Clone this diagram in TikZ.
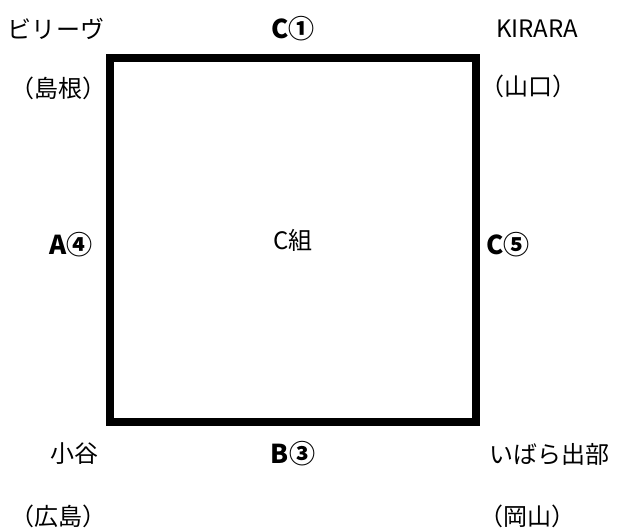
\documentclass[tikz,border=0pt]{standalone}
\usepackage{fontspec}
\setmainfont{Noto Sans CJK JP}
\usetikzlibrary{positioning}

\begin{document}
\begin{tikzpicture}[
  x=1pt, y=-1pt,
  every node/.style={font=\fontsize{24}{28}\selectfont, inner sep=0pt},
  team/.style={font=\fontsize{26}{30}\selectfont\bfseries},
  group/.style={draw, line width=8pt, minimum width=366pt, minimum height=364pt}
]
\useasboundingbox (0,0) rectangle (623,530);
\node[group] (grp) at (293,240) {C組};
% top row
\node (believe) at (56,29) {ビリーヴ};
\node[team] (c1) at (293,29) {C①};
\node (kirara) at (537,29) {KIRARA};
\node (shimane) at (58,88) {（島根）};
\node (yamaguchi) at (528,86) {（山口）};
% middle row
\node[team] (a4) at (71,245) {A④};
\node[team] (c5) at (508,245) {C⑤};
% bottom row
\node (oya) at (74,454) {小谷};
\node[team] (b3) at (293,454) {B③};
\node (ibara) at (549,454) {いばら出部};
\node (hiroshima) at (58,516) {（広島）};
\node (okayama) at (527,516) {（岡山）};
\end{tikzpicture}
\end{document}
